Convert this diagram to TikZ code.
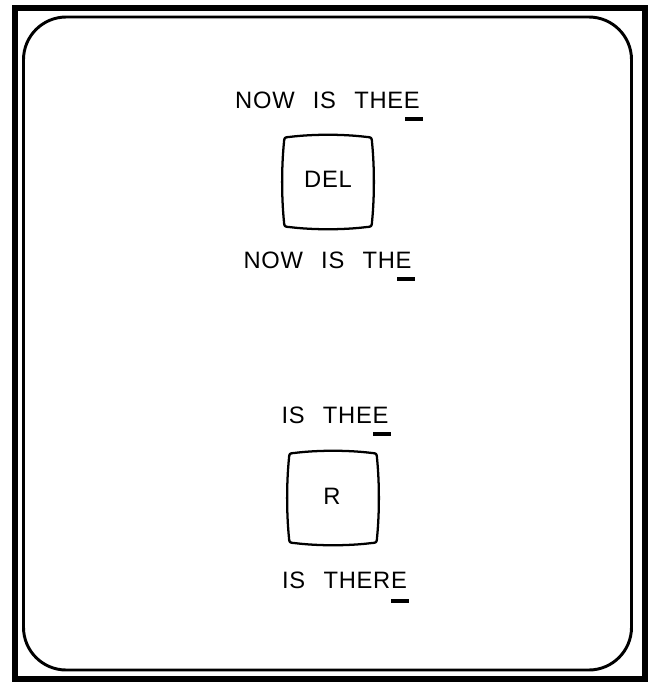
\documentclass[tikz,border=0pt]{standalone}
\usepackage{fontspec}
\newfontfamily\lbl[WordSpace=2.5,LetterSpace=3]{Liberation Sans}
\usetikzlibrary{calc}
\tikzset{
  txt/.style={inner sep=0pt, anchor=base, font=\lbl\fontsize{17.8}{20}\selectfont},
  keybox/.style={inner sep=0pt, minimum width=70pt, minimum height=68pt, font=\lbl\fontsize{17.8}{20}\selectfont},
  keyline/.style={line width=1.7pt, line join=round},
  cursor/.style={fill=black, draw=none, inner sep=0pt, minimum width=13.5pt, minimum height=3pt},
  frame/.style={line width=4.5pt},
  panel/.style={line width=2.2pt, rounded corners=32pt}
}
\newcommand\cushion{(-44,-40) .. controls (-44,-44) and (-43,-45) .. (-39,-45)
 .. controls (-15,-48) and (15,-48) .. (39,-45)
 .. controls (43,-45) and (44,-44) .. (44,-40)
 .. controls (46.5,-15) and (46.5,15) .. (44,40)
 .. controls (44,44) and (43,45) .. (39,45)
 .. controls (15,48) and (-15,48) .. (-39,45)
 .. controls (-43,45) and (-44,44) .. (-44,40)
 .. controls (-46.5,15) and (-46.5,-15) .. cycle}
\begin{document}
\begin{tikzpicture}[x=0.75pt,y=-0.75pt]
\useasboundingbox (0,0) rectangle (649,682);
\fill[white] (0,0) rectangle (649,682);
\draw[frame] (14.5,7.5) rectangle (645,679);
\draw[panel] (23.5,17) rectangle (631.5,670);
% top group
\node[txt] (t1) at (327.5,108) {NOW IS THEE};
\node[cursor] (c1) at (414,119) {};
\node[keybox] (del) at (328,182) {};
\draw[keyline, shift={(del.center)}] \cushion;
\node[txt] (dl) at (328,187) {DEL};
\node[txt] (t2) at (327.5,268) {NOW IS THE};
\node[cursor] (c2) at (405.5,279) {};
% bottom group
\node[txt] (t3) at (335,423) {IS THEE};
\node[cursor] (c3) at (381.5,434) {};
\node[keybox] (rk) at (333,498) {};
\draw[keyline, shift={(rk.center)}] \cushion;
\node[txt] (rl) at (332,504) {R};
\node[txt] (t4) at (344.5,588) {IS THERE};
\node[cursor] (c4) at (399.5,600.5) {};
\end{tikzpicture}
\end{document}
